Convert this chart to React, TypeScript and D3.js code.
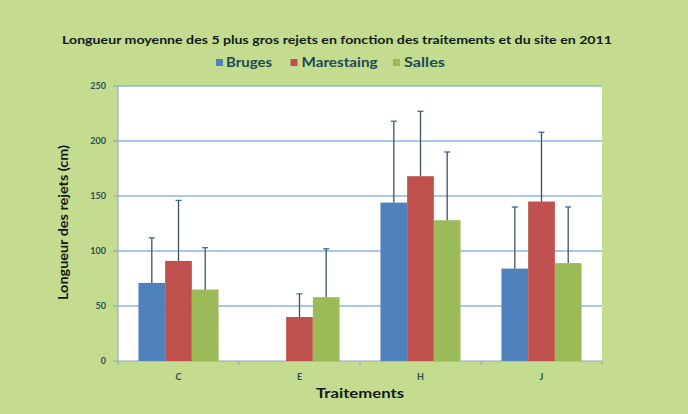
import React from "react";
import * as d3 from "d3";

const categories = ["C", "E", "H", "J"];
const seriesNames = ["Bruges", "Marestaing", "Salles"];
const bruges: (number | null)[] = [71, null, 144, 84];
const marestaing: (number | null)[] = [91, 40, 168, 145];
const salles: (number | null)[] = [65, 58, 128, 89];
const brugesErrTop: (number | null)[] = [112, null, 218, 140];
const marestaingErrTop: (number | null)[] = [146, 61, 227, 208];
const sallesErrTop: (number | null)[] = [103, 102, 190, 140];
const yTicks = [0, 50, 100, 150, 200, 250];
const colors = ["#4F81BD", "#C0504D", "#9BBB59"];

const W = 688;
const H = 414;
const plot = { left: 118, right: 602, top: 86, bottom: 361 };

export default function App() {
  const values = [bruges, marestaing, salles];
  const errs = [brugesErrTop, marestaingErrTop, sallesErrTop];
  const x = d3.scaleBand<string>().domain(categories).range([plot.left, plot.right]).paddingInner(0).paddingOuter(0);
  const groupW = x.bandwidth() * 0.662;
  const xs = d3
    .scaleBand<string>()
    .domain(seriesNames)
    .range([0, groupW]);
  const y = d3.scaleLinear().domain([0, 250]).range([plot.bottom, plot.top]);
  const textColor = "#17373f";
  const font = "Lato, 'Open Sans', sans-serif";

  return (
    <svg
      width={W}
      height={H}
      style={{ position: "absolute", left: 0, top: 0, display: "block" }}
      fontFamily={font}
    >
      <rect x={0} y={0} width={W} height={H} fill="#C4DC90" />
      <rect
        x={plot.left}
        y={plot.top}
        width={plot.right - plot.left}
        height={plot.bottom - plot.top}
        fill="#ffffff"
      />
      {yTicks.map((t) => (
        <g key={t}>
          {t > 0 && (
            <line
              x1={plot.left}
              x2={plot.right}
              y1={y(t)}
              y2={y(t)}
              stroke="#8EB4DA"
              strokeWidth={1.3}
            />
          )}
          <line x1={plot.left - 5} x2={plot.left} y1={y(t)} y2={y(t)} stroke="#8EA8BC" strokeWidth={1} />
          <text
            x={plot.left - 12}
            y={y(t)}
            dy="0.35em"
            textAnchor="end"
            fontSize={9}
            fontWeight="bold"
            fill="#2c5050"
          >
            {t}
          </text>
        </g>
      ))}
      {/* axes */}
      <line x1={plot.left} x2={plot.left} y1={plot.top} y2={plot.bottom} stroke="#8EA8BC" strokeWidth={1} />
      <line x1={plot.left} x2={plot.right} y1={plot.bottom} y2={plot.bottom} stroke="#8EA8BC" strokeWidth={1} />
      {categories.map((c) => (
        <line key={"tk" + c} x1={x(c)!} x2={x(c)!} y1={plot.bottom} y2={plot.bottom + 4} stroke="#8EA8BC" />
      ))}
      <line x1={plot.right} x2={plot.right} y1={plot.bottom} y2={plot.bottom + 4} stroke="#8EA8BC" />

      {/* bars */}
      {categories.map((c, ci) => {
        const gx = x(c)! + (x.bandwidth() - groupW) / 2;
        return (
          <g key={c}>
            {seriesNames.map((s, si) => {
              const v = values[si][ci];
              if (v == null) return null;
              const bx = gx + xs(s)!;
              const bw = xs.bandwidth();
              return (
                <rect key={s} x={bx} y={y(v)} width={bw} height={y(0) - y(v)} fill={colors[si]} />
              );
            })}
            {seriesNames.map((s, si) => {
              const v = values[si][ci];
              const e = errs[si][ci];
              if (v == null || e == null) return null;
              const cx = gx + xs(s)! + xs.bandwidth() / 2;
              return (
                <g key={"e" + s}>
                  <line x1={cx} x2={cx} y1={y(v)} y2={y(e)} stroke="#3E5360" strokeWidth={1.3} />
                  <line x1={cx - 3} x2={cx + 3} y1={y(e)} y2={y(e)} stroke="#2F6F9A" strokeWidth={1.3} />
                </g>
              );
            })}
            <text
              x={x(c)! + x.bandwidth() / 2}
              y={plot.bottom + 19}
              textAnchor="middle"
              fontSize={9}
              fontWeight="bold"
              fill="#2c5050"
            >
              {c}
            </text>
          </g>
        );
      })}

      {/* title */}
      <text
        x={337}
        y={44}
        textAnchor="middle"
        fontSize={11.5}
        fontWeight="bold"
        fill="#111a1a"
        textLength={550}
        lengthAdjust="spacingAndGlyphs"
      >
        Longueur moyenne des 5 plus gros rejets en fonction des traitements et du site en 2011
      </text>

      {/* legend */}
      {[
        { sq: 216, tx: 226, tw: 46 },
        { sq: 290.5, tx: 301.5, tw: 76 },
        { sq: 393, tx: 404, tw: 41 },
      ].map((l, i) => (
        <g key={seriesNames[i]}>
          <rect x={l.sq} y={59} width={7} height={7} fill={colors[i]} />
          <text
            x={l.tx}
            y={67}
            fontSize={12.5}
            fontWeight="bold"
            fill="#1f4a52"
            textLength={l.tw}
            lengthAdjust="spacingAndGlyphs"
          >
            {seriesNames[i]}
          </text>
        </g>
      ))}

      {/* y axis title */}
      <text
        transform={`translate(68, ${(plot.top + plot.bottom) / 2 - 1}) rotate(-90)`}
        textAnchor="middle"
        fontSize={13}
        fontWeight="bold"
        fill="#111a1a"
        textLength={155}
        lengthAdjust="spacingAndGlyphs"
      >
        Longueur des rejets (cm)
      </text>

      {/* x axis title */}
      <text
        x={(plot.left + plot.right) / 2}
        y={398}
        textAnchor="middle"
        fontSize={13}
        fontWeight="bold"
        fill="#111a1a"
        textLength={88}
        lengthAdjust="spacingAndGlyphs"
      >
        Traitements
      </text>
    </svg>
  );
}
